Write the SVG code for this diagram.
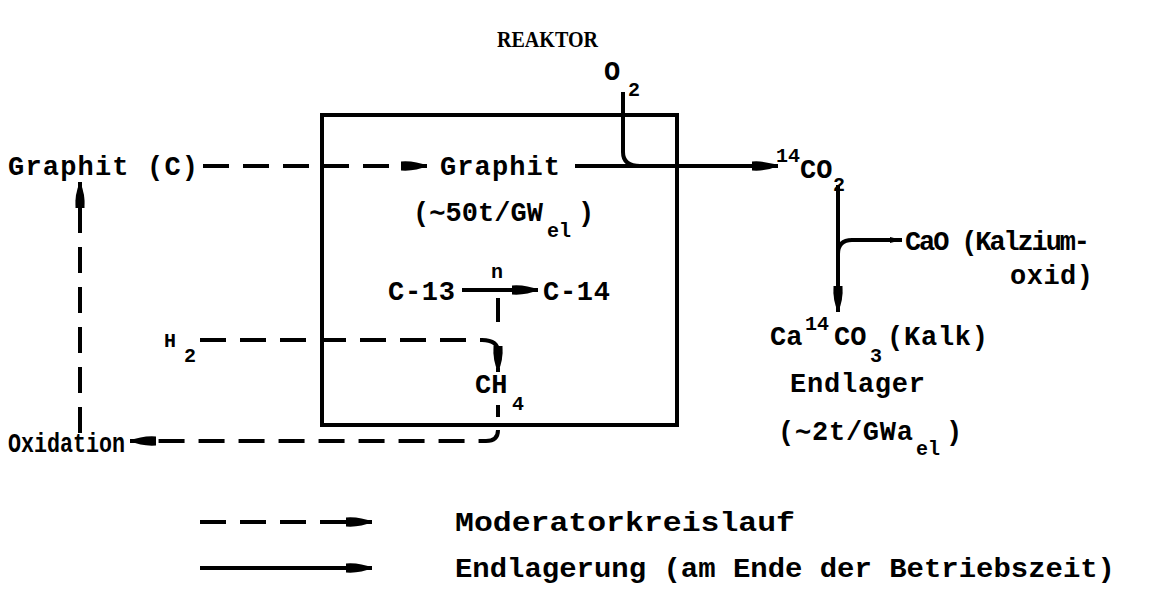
<svg xmlns="http://www.w3.org/2000/svg" width="1159" height="592" viewBox="0 0 1159 592">
<style>
.t{font-family:"Liberation Mono","Courier New",monospace;font-weight:bold;font-size:27px;fill:#000}
.s{font-family:"Liberation Mono","Courier New",monospace;font-weight:bold;font-size:20px;fill:#000}
.l{font-family:"Liberation Mono","Courier New",monospace;font-weight:bold;font-size:28px;fill:#000}
.h{font-family:"Liberation Serif","Times New Roman",serif;font-weight:bold;font-size:23px;fill:#000}
.ln{fill:none;stroke:#000;stroke-width:4}
.d{stroke-dasharray:26 14}
</style>
<defs>
<marker id="ah" markerUnits="userSpaceOnUse" markerWidth="30" markerHeight="14" refX="26" refY="7" orient="auto" viewBox="0 0 30 14">
<path d="M0,2.5 Q14,1.5 26,7 Q14,12.5 0,11.5 Z" fill="#000"/>
</marker>
<marker id="sh" markerUnits="userSpaceOnUse" markerWidth="14" markerHeight="10" refX="12" refY="5" orient="auto" viewBox="0 0 14 10">
<path d="M0,2 L12,5 L0,8 Z" fill="#000"/>
</marker>
</defs>
<text class="h" x="497" y="47" textLength="101" lengthAdjust="spacingAndGlyphs">REAKTOR</text>
<g id="reactor">
<rect x="322" y="115" width="355" height="310" class="ln"/>
</g>
<g id="graphit-c"><text class="t" x="8" y="175" textLength="190" lengthAdjust="spacing">Graphit (C)</text></g>
<g id="graphit"><text class="t" x="440" y="175" textLength="120" lengthAdjust="spacing">Graphit</text>
<text class="t" x="413" y="221" textLength="130" lengthAdjust="spacing">(∼50t/GW</text>
<text class="s" x="547" y="237">el</text>
<text class="t" x="578" y="221">)</text></g>
<g id="o2"><text class="t" x="604" y="80">O</text><text class="s" x="628" y="96">2</text></g>
<g id="c13"><text class="t" x="388" y="300" textLength="67" lengthAdjust="spacing">C-13</text></g>
<g id="n"><text class="s" x="491" y="278" font-size="14">n</text></g>
<g id="c14"><text class="t" x="543" y="300" textLength="67" lengthAdjust="spacing">C-14</text></g>
<g id="h2"><text class="s" x="164" y="347">H</text><text class="s" x="184" y="362">2</text></g>
<g id="ch4"><text class="t" x="475" y="393">CH</text><text class="s" x="512" y="410">4</text></g>
<g id="oxidation"><text class="t" x="8" y="452" textLength="117" lengthAdjust="spacingAndGlyphs">Oxidation</text></g>
<g id="co2"><text class="s" x="776" y="162">14</text><text class="t" x="800" y="178">CO</text><text class="s" x="833" y="191">2</text></g>
<g id="cao"><text class="t" x="905" y="250" textLength="185" lengthAdjust="spacing">CaO (Kalzium-</text>
<text class="t" x="1010" y="284" textLength="83" lengthAdjust="spacing">oxid)</text></g>
<g id="caco3"><text class="t" x="770" y="345">Ca</text>
<text class="s" x="805" y="330">14</text>
<text class="t" x="834" y="345">CO</text>
<text class="s" x="870" y="362">3</text>
<text class="t" x="887" y="345" textLength="101" lengthAdjust="spacing">(Kalk)</text>
<text class="t" x="790" y="392" textLength="135" lengthAdjust="spacing">Endlager</text>
<text class="t" x="778" y="440" textLength="135" lengthAdjust="spacing">(∼2t/GWa</text>
<text class="s" x="916" y="455">el</text>
<text class="t" x="946" y="440">)</text></g>
<g id="legend">
<text class="l" x="455" y="531" textLength="340" lengthAdjust="spacingAndGlyphs">Moderatorkreislauf</text>
<text class="l" x="455" y="577" textLength="660" lengthAdjust="spacingAndGlyphs">Endlagerung (am Ende der Betriebszeit)</text>
</g>
<g id="connectors">
<path class="ln d" d="M203,166 H427" marker-end="url(#ah)"/>
<path class="ln" d="M575,166 H778" marker-end="url(#ah)"/>
<path class="ln" d="M623,92 V152 Q623,166 640,166"/>
<path class="ln" d="M462,290 H538" marker-end="url(#ah)"/>
<path class="ln" d="M498,298 V322"/>
<path class="ln d" d="M200,340 H482 Q498,340 498,352 V372" marker-end="url(#ah)"/>
<path class="ln" d="M498,405 V417"/>
<path class="ln d" d="M498,430 Q498,441 486,441 H130" marker-end="url(#ah)"/>
<path class="ln d" d="M80,433 V182" marker-end="url(#ah)"/>
<path class="ln" d="M838,185 V312" marker-end="url(#ah)"/>
<path class="ln" d="M838,254 Q838,240 852,240 H902" marker-end="url(#sh)"/>
<path class="ln d" d="M200,522 H372" marker-end="url(#ah)"/>
<path class="ln" d="M200,568 H372" marker-end="url(#ah)"/>
</g>
</svg>
